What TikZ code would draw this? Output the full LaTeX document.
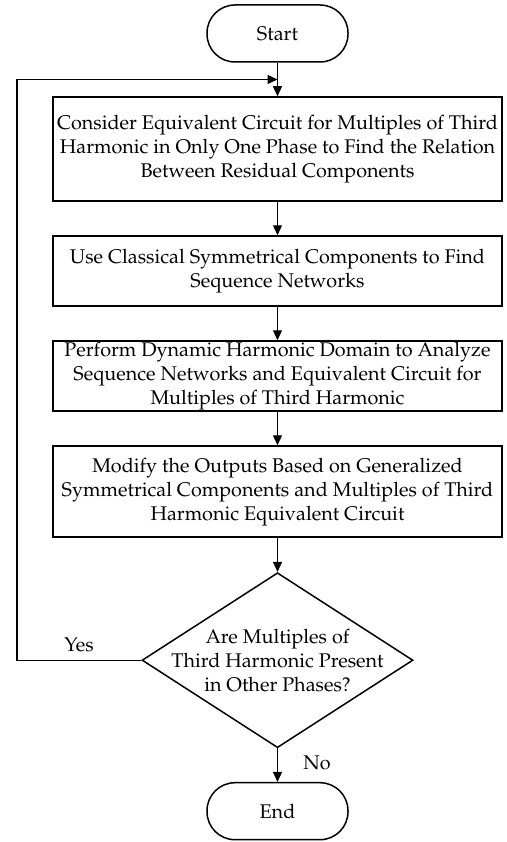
\documentclass[tikz,border=0pt]{standalone}
\usepackage[T1]{fontenc}
\usepackage{mathpazo}
\usetikzlibrary{shapes,calc,positioning,arrows.meta}

\begin{document}
\begin{tikzpicture}[x=1pt, y=1pt, node distance=33.5pt,
  every node/.style={font=\fontsize{19.8}{24}\selectfont},
  term/.style={draw, line width=1.5pt, rectangle, rounded corners=28pt, minimum width=141pt, minimum height=57pt},
  proc/.style={draw, line width=1.5pt, rectangle, minimum width=449pt, align=center, inner sep=0pt},
  decision/.style={draw, line width=1.5pt, diamond, minimum width=271pt, minimum height=175pt, inner sep=0pt},
  arr/.style={-{Triangle[length=10pt,width=9pt]}, line width=1.3pt}]
\useasboundingbox (0,0) rectangle (506,-842);
\node[term] (start) at (277.5,-33.5) {Start};
\node[proc, minimum height=104pt, below=of start] (consider) {Consider Equivalent Circuit for Multiples of Third\\ Harmonic in Only One Phase to Find the Relation\\ Between Residual Components};
\node[proc, minimum height=70pt, below=of consider] (classic) {Use Classical Symmetrical Components to Find\\ Sequence Networks};
\node[proc, minimum height=70pt, below=of classic] (dhd) {Perform Dynamic Harmonic Domain to Analyze\\ Sequence Networks and Equivalent Circuit for\\ Multiples of Third Harmonic};
\node[proc, minimum height=91pt, line width=2.2pt, below=of dhd] (modify) {Modify the Outputs Based on Generalized\\ Symmetrical Components and Multiples of Third\\ Harmonic Equivalent Circuit};
\node[decision, below=of modify, label={[align=center]center:Are Multiples of\\ Third Harmonic Present\\ in Other Phases?}] (ask) {};
\node[term, below=of ask] (end) {End};
\coordinate (join) at ($(start.south)!0.5!(consider.north)$);
\coordinate (left) at (17,0);
\draw[arr] (start) -- (consider);
\draw[arr] (consider) -- (classic);
\draw[arr] (classic) -- (dhd);
\draw[arr] (dhd) -- (modify);
\draw[arr] (modify) -- (ask);
\draw[arr] (ask) -- node[right, xshift=22pt, yshift=2pt] {No} (end);
\draw[arr] (ask.west) -- node[above, yshift=4pt] {Yes} (ask.west -| left) |- (join);
\end{tikzpicture}
\end{document}
